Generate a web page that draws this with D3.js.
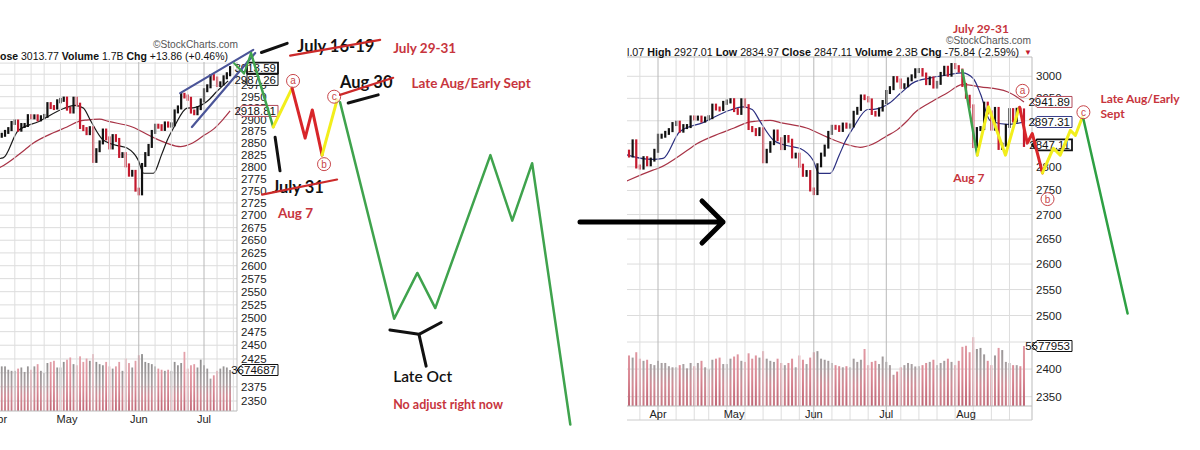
<!DOCTYPE html>
<html><head><meta charset="utf-8">
<script src="https://cdn.jsdelivr.net/npm/d3@7"></script>
<style>body{margin:0;background:#fff}svg{display:block}</style>
</head><body>
<svg id="c" width="1200" height="450"></svg>
<script>
// ---------------- DATA ----------------
const dates = ["2019-03-18","2019-03-19","2019-03-20","2019-03-21","2019-03-22","2019-03-25","2019-03-26","2019-03-27","2019-03-28","2019-03-29",
"2019-04-01","2019-04-02","2019-04-03","2019-04-04","2019-04-05","2019-04-08","2019-04-09","2019-04-10","2019-04-11","2019-04-12",
"2019-04-15","2019-04-16","2019-04-17","2019-04-18","2019-04-22","2019-04-23","2019-04-24","2019-04-25","2019-04-26","2019-04-29","2019-04-30",
"2019-05-01","2019-05-02","2019-05-03","2019-05-06","2019-05-07","2019-05-08","2019-05-09","2019-05-10","2019-05-13","2019-05-14","2019-05-15","2019-05-16","2019-05-17",
"2019-05-20","2019-05-21","2019-05-22","2019-05-23","2019-05-24","2019-05-28","2019-05-29","2019-05-30","2019-05-31",
"2019-06-03","2019-06-04","2019-06-05","2019-06-06","2019-06-07","2019-06-10","2019-06-11","2019-06-12","2019-06-13","2019-06-14",
"2019-06-17","2019-06-18","2019-06-19","2019-06-20","2019-06-21","2019-06-24","2019-06-25","2019-06-26","2019-06-27","2019-06-28",
"2019-07-01","2019-07-02","2019-07-03","2019-07-05","2019-07-08","2019-07-09","2019-07-10","2019-07-11","2019-07-12",
"2019-07-15","2019-07-16","2019-07-17","2019-07-18","2019-07-19","2019-07-22","2019-07-23","2019-07-24","2019-07-25","2019-07-26",
"2019-07-29","2019-07-30","2019-07-31","2019-08-01","2019-08-02","2019-08-05","2019-08-06","2019-08-07","2019-08-08","2019-08-09",
"2019-08-12","2019-08-13","2019-08-14","2019-08-15","2019-08-16","2019-08-19","2019-08-20","2019-08-21","2019-08-22","2019-08-23"];

const closes = [2832.94,2832.57,2824.23,2854.88,2800.71,2798.36,2818.46,2805.37,2815.44,2834.40,
2867.19,2867.24,2873.40,2879.39,2892.74,2895.77,2878.20,2888.21,2888.32,2907.41,
2905.58,2907.06,2900.45,2905.03,2907.97,2933.68,2927.25,2926.17,2939.88,2943.03,2945.83,
2923.73,2917.52,2945.64,2932.47,2884.05,2879.42,2870.72,2881.40,2811.87,2834.41,2850.96,2876.32,2859.53,
2840.23,2864.36,2856.27,2822.24,2826.06,2802.39,2783.02,2788.86,2752.06,
2744.45,2803.27,2826.15,2843.49,2873.34,2886.73,2885.72,2879.84,2891.64,2886.98,
2889.67,2917.75,2926.46,2954.18,2950.46,2945.35,2917.38,2913.78,2924.92,2941.76,
2964.33,2973.01,2995.82,2990.41,2975.95,2979.63,2993.07,2999.91,3013.77,
3014.30,3004.04,2984.42,2995.11,2976.61,2985.03,3005.47,3019.56,3003.67,3025.86,
3020.97,3013.18,2980.38,2953.56,2932.05,2844.74,2881.77,2883.98,2938.09,2918.65,
2882.70,2926.32,2840.60,2847.60,2888.68,2923.65,2900.51,2924.43,2922.95,2847.11];

// volume, billions
const volumes = [4.1,4.6,4.7,4.5,5.0, 4.4,4.2,4.3,3.9,3.8,
4.2,4.0,4.0,3.7,3.6, 3.6,3.8,3.9,3.5,4.0, 3.7,4.0,4.2,3.6, 3.4,4.3,4.4,4.5,3.9, 3.9,4.4,
4.6,4.8,4.2, 4.1,4.9,4.4,4.7,4.5, 5.1,4.4,4.2,4.1,4.4, 4.0,3.8,4.0,4.4,3.6, 4.7,4.3,3.9,4.5,
5.0,5.1,4.4,4.3,4.2, 4.0,3.8,3.7,3.6,3.7, 3.6,4.4,4.1,4.3,5.3, 3.8,4.1,4.2,3.9,4.6,
4.1,3.8,2.9,3.2, 3.6,3.8,4.0,3.9,3.674687,
3.7,3.8,4.0,4.1,4.3, 3.8,4.0,4.2,4.4,4.1, 3.8,4.2,5.5, 5.6,5.0,
6.4,5.3,5.4,4.8,4.2, 3.8,4.7,5.4,5.2,4.1, 4.0,3.8,3.8,3.7,5.577953];

// moving averages (trading-day index, value)
const fastMaIdx = [0,1.7,8.6,11.4,16,22.4,30,33.5,36,38.2,41.8,44,47.3,49.4,52.8,54.5,57.5,60,61.7,64,67.8,70,74,77,80.4,85,89.8,94,97,99,101.7,106.4,111];
const fastMaVal = [2830,2825,2816,2818,2876,2896,2924,2931,2925,2898,2858,2849,2843,2839,2814,2786,2786,2825,2855,2886,2925,2926,2940,2962,2985,2996,3003,3008,2995,2960,2900,2892,2897.31];
const slowMaIdx = [0,1.7,8.6,10.4,18,20.6,27,31,34.6,37,41,43.7,51,56.7,61.7,65.8,69,73,76,78.8,81,85,89.8,94,99,106.4,111];
const slowMaVal = [2765,2771,2793,2798,2835,2849,2872,2884,2896,2899,2901,2896,2884,2864,2849,2842,2848,2866,2880,2900,2918.81,2940,2962,2981,2976,2965,2941.89];

const leftTicks = [2350,2375,2400,2425,2450,2475,2500,2525,2550,2575,2600,2625,2650,2675,2700,2725,2750,2775,2800,2825,2850,2875,2900,2925,2950,2975,3000,3025];
const rightTicks = [2350,2400,2450,2500,2550,2600,2650,2700,2750,2800,2850,2900,2950,3000];
const monthLabels = ["Apr","May","Jun","Jul","Aug"];
const monthStartIdx = [10,31,53,73,95];

// left panel annotations (trading-day index, price)
const leftWedgeUpper = [[65.7,2958],[88.1,3055]];
const leftWedgeLower = [[69.3,2884],[88.7,3048]];
const leftGreenSmall = [[82.2,3025],[85.3,3001],[87.4,3048]];
const leftGreenDown = [[87.4,3048],[94.2,2884]];
const leftYellowA = [[94.2,2884],[100,2969]];
const leftRedB = [[100,2969],[104,2860],[106.2,2921],[109.2,2824]];
const leftYellowC = [[109.2,2824],[113.8,2943]];
const leftGreenFuture = [[114.7,2938],[131.3,2499],[138.4,2586],[143.9,2519],[160.8,2824],[167.5,2689],[173.6,2807],[185.3,2309]];
const leftBlackMarks = [[[90.6,3049],[98.5,3070]],[[117.2,2936],[126.4,2954]],[[94.8,2862],[96.3,2791]],
  [[130,2478],[138.9,2470],[145.7,2492]],[[138.9,2470],[141.1,2412]]];
const leftRedStrikes = [[[99.4,3042],[127,3078]],[[114.7,2954],[131,2992]],[[90.8,2742],[113.8,2773]]];
const leftCircleLabels = ["a","b","c"];
const leftCircleAt = [[100.3,2985],[109.8,2805],[112.9,2950]];
const leftNoteText = ["July 16-19","July 29-31","Aug 30","Late Aug/Early Sept","July 31","Aug 7","Late Oct","No adjust right now"];
const leftNoteAt = [[101.6,3050],[131,3048],[114.7,2969],[136.6,2969],[93.9,2745],[95.7,2694],[131,2383],[131,2336]];

// right panel annotations
const rightGreenA = [[94,3014],[98.1,2825]];
const rightYellowA = [[98.1,2825],[101.2,2931],[105.9,2825],[109.6,2928]];
const rightRedB = [[109.8,2930],[111.9,2851],[113.3,2872],[116.1,2787]];
const rightYellowC = [[116.1,2787],[119.1,2840],[121,2825],[123.8,2879],[125.2,2868],[127.1,2908]];
const rightGreenFuture = [[127.4,2904],[139.6,2504]];
const rightCircleLabels = ["a","b","c"];
const rightCircleAt = [[110.6,2967],[117.5,2732],[127.4,2919]];
const rightNoteText = ["July 29-31","Aug 7","Late Aug/Early","Sept"];
const rightNoteAt = [[91.4,3101],[91.5,2768],[132.1,2939],[132.1,2907]];

// ---------------- DRAW ----------------
const svg = d3.select("#c");
const SANS = "'Liberation Sans', Arial, sans-serif";
const HAND = "Lato, 'Open Sans', sans-serif";
const GREEN = "#3fa34d", YELLOW = "#f2ee1c", RED = "#d8262a", NOTE_RED = "#c7353d";
const parse = d3.timeParse("%Y-%m-%d");
const dts = dates.map(parse);
const weekStarts = dts.map((d,i)=> i===0 || d3.timeMonday.floor(d).getTime() !== d3.timeMonday.floor(dts[i-1]).getTime() ? i : -1).filter(i=>i>=0);
const defs = svg.append("defs");

function panel(cfg){
  const g = svg.append("g");
  const x = d3.scaleLinear().domain(cfg.xDom).range(cfg.xRng);
  const y = d3.scaleLog().domain([2350, cfg.yTopVal]).range([cfg.y2350, cfg.yTopPx]);
  const vy = d3.scaleLinear().domain([0, cfg.volRef]).range([cfg.bottom, cfg.volRefPx]);
  const clipId = "clip" + cfg.id;
  defs.append("clipPath").attr("id", clipId).append("rect")
    .attr("x", cfg.left).attr("y", cfg.top).attr("width", cfg.right-cfg.left).attr("height", cfg.bottom-cfg.top);
  // gradients for volume bars (gray top -> pink base)
  const gu = defs.append("linearGradient").attr("id","vu"+cfg.id).attr("gradientUnits","userSpaceOnUse")
    .attr("x1",0).attr("x2",0).attr("y1",cfg.volRefPx-10).attr("y2",cfg.bottom);
  gu.append("stop").attr("offset","0%").attr("stop-color","#8f8f8f");
  gu.append("stop").attr("offset","45%").attr("stop-color","#a9a0a2");
  gu.append("stop").attr("offset","70%").attr("stop-color","#d28d97");
  gu.append("stop").attr("offset","100%").attr("stop-color","#c77682");
  const gd = defs.append("linearGradient").attr("id","vd"+cfg.id).attr("gradientUnits","userSpaceOnUse")
    .attr("x1",0).attr("x2",0).attr("y1",cfg.volRefPx-10).attr("y2",cfg.bottom);
  gd.append("stop").attr("offset","0%").attr("stop-color","#e3a1aa");
  gd.append("stop").attr("offset","60%").attr("stop-color","#d98793");
  gd.append("stop").attr("offset","100%").attr("stop-color","#bf6474");

  const pg = g.append("g").attr("clip-path", `url(#${clipId})`);
  cfg.ticks.forEach(t=>{
    pg.append("line").attr("x1",cfg.left).attr("x2",cfg.right).attr("y1",y(t)).attr("y2",y(t))
      .attr("stroke","#dcdcdc").attr("stroke-width",1);
  });
  weekStarts.forEach(i=>{
    if (x(i)<cfg.left || x(i)>cfg.right) return;
    const isMonth = monthStartIdx.includes(i);
    g.append("line").attr("x1",x(i)).attr("x2",x(i)).attr("y1",cfg.top).attr("y2",cfg.bottom + (cfg.axisBox?14:0))
      .attr("stroke", isMonth ? "#b8b8b8" : "#dedede").attr("stroke-width",1);
  });
  // volume bars
  const bw = cfg.barW;
  d3.range(cfg.first, cfg.last+1).forEach(i=>{
    const up = i===0 || closes[i] >= closes[i-1];
    pg.append("rect").attr("x", x(i)-bw/2).attr("width", bw)
      .attr("y", vy(volumes[i])).attr("height", cfg.bottom - vy(volumes[i]))
      .attr("fill", up ? `url(#vu${cfg.id})` : `url(#vd${cfg.id})`);
  });
  // moving averages
  const line = d3.line().x(d=>x(d[0])).y(d=>y(d[1])).curve(d3.curveMonotoneX);
  const slow = slowMaIdx.map((v,k)=>[v, slowMaVal[k]]).filter(d=>d[0]<=cfg.last+0.01);
  const fast = fastMaIdx.map((v,k)=>[v, fastMaVal[k]]).filter(d=>d[0]<=cfg.last+0.01);
  pg.append("path").attr("d", line(slow)).attr("fill","none").attr("stroke","#a83346").attr("stroke-width",1.2);
  pg.append("path").attr("d", line(fast)).attr("fill","none").attr("stroke",cfg.fastColor).attr("stroke-width",1.2);
  // candles (body from previous close to close)
  d3.range(Math.max(1,cfg.first), cfg.last+1).forEach(i=>{
    const o = closes[i-1], c = closes[i];
    const y1 = y(Math.max(o,c)), y2 = y(Math.min(o,c));
    pg.append("rect").attr("x", x(i)-cfg.candleW/2).attr("width", cfg.candleW)
      .attr("y", y1-2).attr("height", Math.max(5, y2-y1+4))
      .attr("fill", c >= o ? "#111" : "#c41a2e");
  });
  // frame
  g.append("line").attr("x1",cfg.left).attr("x2",cfg.right).attr("y1",cfg.bottom).attr("y2",cfg.bottom).attr("stroke","#bbb");
  g.append("line").attr("x1",cfg.right).attr("x2",cfg.right).attr("y1",cfg.top).attr("y2",cfg.bottom+(cfg.axisBox?14:0)).attr("stroke","#bbb");
  if (cfg.topLine) g.append("line").attr("x1",cfg.left).attr("x2",cfg.right).attr("y1",cfg.top).attr("y2",cfg.top).attr("stroke","#bbb");
  if (cfg.axisBox) g.append("line").attr("x1",cfg.left).attr("x2",cfg.right).attr("y1",cfg.bottom+14).attr("y2",cfg.bottom+14).attr("stroke","#ccc");
  // price labels (skip those hidden under value boxes)
  cfg.ticks.forEach(t=>{
    if (y(t) < cfg.top-2) return;
    if (cfg.hidden.includes(t)) return;
    g.append("text").attr("x", cfg.right+4).attr("y", y(t)+4).text(t)
      .attr("font-family",SANS).attr("font-size",11.5).attr("fill","#222");
  });
  monthStartIdx.forEach((i,k)=>{
    if (x(i) > cfg.right) return;
    g.append("text").attr("x", x(i)).attr("y", cfg.bottom+11.5).attr("text-anchor","middle")
      .text(monthLabels[k]).attr("font-family",SANS).attr("font-size",11).attr("fill","#222");
  });
  return {g,x,y,vy};
}

function valueBox(g, xL, xR, yc, txt, color, arrow, bold){
  const h = 11;
  const p = arrow
    ? `M${xL},${yc} L${xL+5},${yc-h/2} L${xR},${yc-h/2} L${xR},${yc+h/2} L${xL+5},${yc+h/2} Z`
    : `M${xL},${yc-h/2} L${xR},${yc-h/2} L${xR},${yc+h/2} L${xL},${yc+h/2} Z`;
  g.append("path").attr("d",p).attr("fill","#fff").attr("stroke",color).attr("stroke-width",bold?1.8:1);
  g.append("text").attr("x",xR-2).attr("y",yc+4).attr("text-anchor","end").text(txt)
    .attr("font-family",SANS).attr("font-size",11.5).attr("fill","#111");
}
function drawPath(g, P, pts, color, w){
  const l = d3.line().x(d=>P.x(d[0])).y(d=>P.y(d[1]));
  g.append("path").attr("d", l(pts)).attr("fill","none").attr("stroke",color)
    .attr("stroke-width",w).attr("stroke-linejoin","round").attr("stroke-linecap","round");
}
function circleLabel(g, P, at, lab){
  g.append("circle").attr("cx",P.x(at[0])).attr("cy",P.y(at[1])).attr("r",6.5)
    .attr("fill","#fff").attr("fill-opacity",0.6).attr("stroke","#c8464a").attr("stroke-width",1);
  g.append("text").attr("x",P.x(at[0])).attr("y",P.y(at[1])+3.5).attr("text-anchor","middle").text(lab)
    .attr("font-family",SANS).attr("font-size",10).attr("fill","#c8464a");
}
function note(g, P, at, txt, color, size, weight){
  g.append("text").attr("x",P.x(at[0])).attr("y",P.y(at[1])).text(txt)
    .attr("font-family",HAND).attr("font-size",size).attr("font-weight",weight).attr("fill",color);
}

// ---- LEFT PANEL ----
const L = panel({id:"L", xDom:[31,73], xRng:[67,204], yTopVal:2950, yTopPx:96.7, y2350:401,
  left:0, right:237, top:62, bottom:411, volRef:3.674687, volRefPx:370, first:9, last:81,
  ticks:leftTicks, hidden:[3000,3025,2400], barW:1.8, candleW:2.2, fastColor:"#1a1a1a", topLine:false, axisBox:false});
(function(){
  const t = svg.append("text").attr("x",0).attr("y",60).attr("font-family",SANS).attr("font-size",11.5).attr("fill","#111")
    .attr("textLength",228).attr("lengthAdjust","spacingAndGlyphs");
  t.append("tspan").attr("font-weight","bold").text("ose ");
  t.append("tspan").text("3013.77  ");
  t.append("tspan").attr("font-weight","bold").text("Volume ");
  t.append("tspan").text("1.7B  ");
  t.append("tspan").attr("font-weight","bold").text("Chg ");
  t.append("tspan").text("+13.86 (+0.46%)");
  svg.append("text").attr("x",153).attr("y",48).text("©StockCharts.com").attr("font-family",SANS)
    .attr("font-size",10.5).attr("fill","#555").attr("textLength",85).attr("lengthAdjust","spacingAndGlyphs");
})();
valueBox(L.g, 247, 278, L.y(3013.59), "3013.59", "#111", false, true);
valueBox(L.g, 247, 278, L.y(2987.26), "2987.26", "#111", false, false);
valueBox(L.g, 237, 278, L.y(2918.81), "2918.81", "#b04a5a", true, false);
valueBox(L.g, 237, 278, L.vy(volumes[81]), "3674687", "#111", true, false);

drawPath(L.g, L, leftWedgeUpper, "#4b5598", 2.2);
drawPath(L.g, L, leftWedgeLower, "#4b5598", 2.2);
drawPath(L.g, L, leftGreenSmall, GREEN, 2);
drawPath(L.g, L, leftGreenDown, GREEN, 2.5);
drawPath(L.g, L, leftYellowA, YELLOW, 3);
drawPath(L.g, L, leftRedB, RED, 3);
drawPath(L.g, L, leftYellowC, YELLOW, 3);
drawPath(L.g, L, leftGreenFuture, GREEN, 2.5);
leftBlackMarks.forEach(m=>drawPath(L.g, L, m, "#111", 3));
leftCircleAt.forEach((a,k)=>circleLabel(L.g, L, a, leftCircleLabels[k]));
const leftNoteStyle = [["#111",16.5,700],[NOTE_RED,13.5,700],["#111",16.5,700],[NOTE_RED,13.5,700],["#111",16.5,700],[NOTE_RED,13.5,700],["#111",15.5,600],[NOTE_RED,12.5,700]];
leftNoteAt.forEach((a,k)=>note(L.g, L, a, leftNoteText[k], ...leftNoteStyle[k]));
leftRedStrikes.forEach(m=>drawPath(L.g, L, m, "#cc2a2a", 2.2));

// ---- RIGHT PANEL ----
const R = panel({id:"R", xDom:[10,95], xRng:[658,966], yTopVal:3000, yTopPx:76.3, y2350:396.7,
  left:627, right:1032, top:57, bottom:406, volRef:5.577953, volRefPx:346, first:0, last:111,
  ticks:rightTicks, hidden:[2900,2850,2450], barW:2, candleW:2.2, fastColor:"#2b2f80", topLine:true, axisBox:true});
(function(){
  const t = svg.append("text").attr("x",627).attr("y",56).attr("font-family",SANS).attr("font-size",11.5).attr("fill","#111")
    .attr("textLength",392).attr("lengthAdjust","spacingAndGlyphs");
  t.append("tspan").text("l.07  ");
  t.append("tspan").attr("font-weight","bold").text("High ");
  t.append("tspan").text("2927.01  ");
  t.append("tspan").attr("font-weight","bold").text("Low ");
  t.append("tspan").text("2834.97  ");
  t.append("tspan").attr("font-weight","bold").text("Close ");
  t.append("tspan").text("2847.11  ");
  t.append("tspan").attr("font-weight","bold").text("Volume ");
  t.append("tspan").text("2.3B  ");
  t.append("tspan").attr("font-weight","bold").text("Chg ");
  t.append("tspan").text("-75.84 (-2.59%)");
  svg.append("text").attr("x",1024).attr("y",55).text("▼").attr("font-family",SANS).attr("font-size",8).attr("fill","#c41a2e");
  svg.append("text").attr("x",946).attr("y",44).text("©StockCharts.com").attr("font-family",SANS)
    .attr("font-size",10.5).attr("fill","#555").attr("textLength",85).attr("lengthAdjust","spacingAndGlyphs");
})();
valueBox(R.g, 1032, 1072, R.y(2941.89), "2941.89", "#b04a5a", true, false);
valueBox(R.g, 1032, 1072, R.y(2897.31), "2897.31", "#3a3f8a", true, false);
valueBox(R.g, 1032, 1072, R.y(2847.11), "2847.11", "#111", true, true);
valueBox(R.g, 1032, 1072, R.vy(volumes[111]), "5577953", "#111", true, false);

drawPath(R.g, R, rightGreenA, GREEN, 2.5);
drawPath(R.g, R, rightYellowA, YELLOW, 3);
drawPath(R.g, R, rightRedB, RED, 3);
drawPath(R.g, R, rightYellowC, YELLOW, 3);
drawPath(R.g, R, rightGreenFuture, "#2ea043", 2.5);
rightCircleAt.forEach((a,k)=>circleLabel(R.g, R, a, rightCircleLabels[k]));
rightNoteAt.forEach((a,k)=>note(R.g, R, a, rightNoteText[k], NOTE_RED, 12, 700));

// ---- big arrow between panels ----
const arrowAt = {x1:580, x2:723, y:222, head:21};
svg.append("path")
  .attr("d", `M${arrowAt.x1},${arrowAt.y} L${arrowAt.x2},${arrowAt.y} M${arrowAt.x2-arrowAt.head},${arrowAt.y-arrowAt.head} L${arrowAt.x2},${arrowAt.y} L${arrowAt.x2-arrowAt.head},${arrowAt.y+arrowAt.head}`)
  .attr("fill","none").attr("stroke","#000").attr("stroke-width",5).attr("stroke-linecap","round").attr("stroke-linejoin","round");
</script>
</body></html>
